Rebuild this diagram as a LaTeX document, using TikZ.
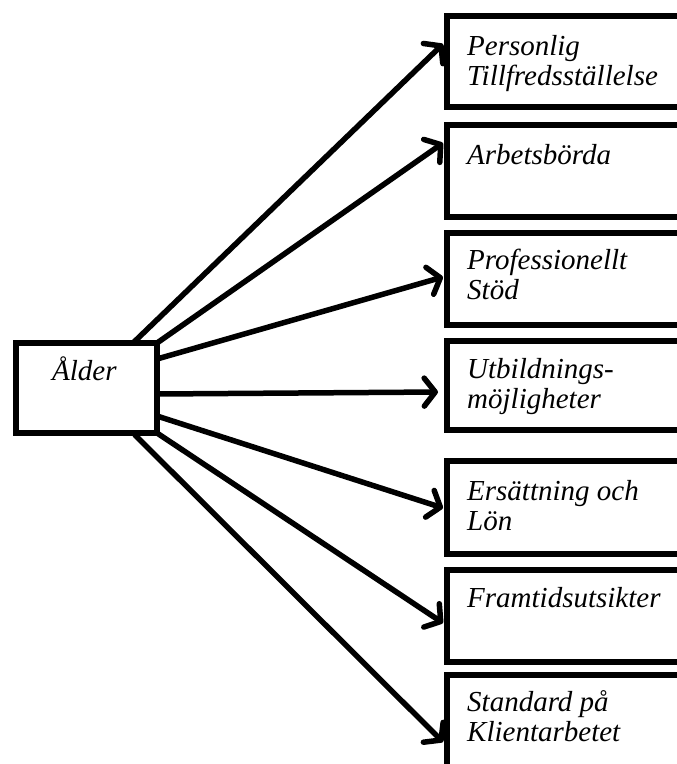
\documentclass[tikz,border=0pt]{standalone}
\usepackage{fontspec}
\setmainfont{Liberation Serif}
\usetikzlibrary{arrows.meta,calc}
\begin{document}
\begin{tikzpicture}[x=1pt,y=-1pt,
  box/.style={draw, line width=5.5pt, rectangle, inner sep=0pt, outer sep=0pt},
  rbox/.style={box, minimum width=256pt, anchor=north west},
  lbl/.style={anchor=base west, inner sep=0pt, font=\fontsize{29}{30}\selectfont\itshape},
  conn/.style={line width=5.5pt, line cap=round, -{Straight Barb[length=11pt,width=28pt,line width=5.5pt,round]}}]
\newcommand{\mytxt}[1]{\begin{tabular}[t]{@{}l@{}}#1\end{tabular}}
\useasboundingbox (0,0) rectangle (677,764);
\clip (0,0) rectangle (677,764);
% left box
\node[box, minimum width=141pt, minimum height=90pt, anchor=north west] (L) at (16,343) {};
\node[lbl] (tL) at ($(L.north west)+(36,37)$) {Ålder};
% right boxes
\node[rbox, minimum height=91pt] (B1) at (447,16) {};
\node[rbox, minimum height=92pt] (B2) at (447,125) {};
\node[rbox, minimum height=92pt] (B3) at (447,233) {};
\node[rbox, minimum height=89pt] (B4) at (447,341) {};
\node[rbox, minimum height=93pt] (B5) at (447,461) {};
\node[rbox, minimum height=92pt] (B6) at (447,570) {};
\node[rbox, minimum height=110pt] (B7) at (447,675) {};
\node[lbl] (t1) at ($(B1.north west)+(20,39)$) {\mytxt{Personlig\\Tillfredsställelse}};
\node[lbl] (t2) at ($(B2.north west)+(20,39)$) {Arbetsbörda};
\node[lbl] (t3) at ($(B3.north west)+(20,36)$) {\mytxt{Professionellt\\Stöd}};
\node[lbl] (t4) at ($(B4.north west)+(20,37)$) {\mytxt{Utbildnings-\\möjligheter}};
\node[lbl] (t5) at ($(B5.north west)+(20,39)$) {\mytxt{Ersättning och\\Lön}};
\node[lbl] (t6) at ($(B6.north west)+(20,37)$) {Framtidsutsikter};
\node[lbl] (t7) at ($(B7.north west)+(20,36)$) {\mytxt{Standard på\\Klientarbetet}};
% connectors
\draw[conn] ($(L.north east)+(-24,0)$) -- ($(B1.north west)+(-4,28)$);
\draw[conn] (L.north east) -- ($(B2.north west)+(-4,18)$);
\draw[conn] ($(L.north east)+(0,16)$) -- ($(B3.north west)+(-4,44)$);
\draw[conn] ($(L.north east)+(0,51)$) -- ($(B4.north west)+(-9,51)$);
\draw[conn] ($(L.north east)+(0,73)$) -- ($(B5.north west)+(-4,47)$);
\draw[conn] (L.south east) -- ($(B6.north west)+(-4,53)$);
\draw[conn] ($(L.south east)+(-22,2)$) -- ($(B7.north west)+(-4,67)$);
\end{tikzpicture}
\end{document}
